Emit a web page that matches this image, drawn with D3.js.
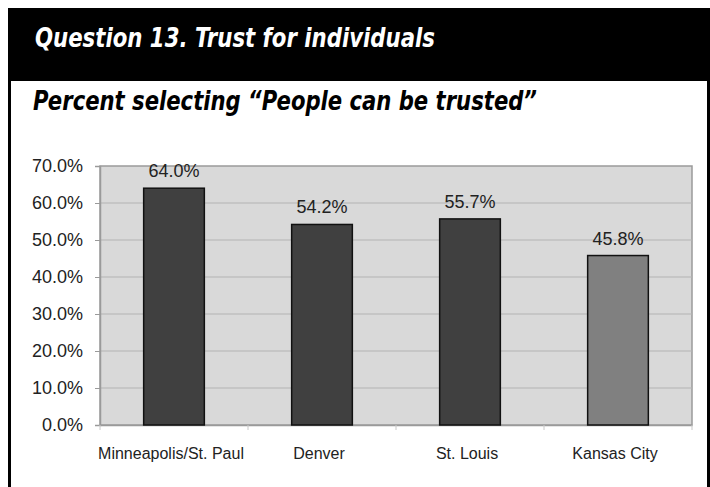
<!DOCTYPE html>
<html>
<head>
<meta charset="utf-8">
<script src="https://cdn.jsdelivr.net/npm/d3@7/dist/d3.min.js"></script>
<style>
  html, body { margin: 0; padding: 0; background: #fff; }
  svg { display: block; }
</style>
</head>
<body>
<script>
// Survey result: share of respondents who say "People can be trusted"
const cities = ["Minneapolis/St. Paul", "Denver", "St. Louis", "Kansas City"];
const percents = [64.0, 54.2, 55.7, 45.8];
const barFills = ["#404040", "#404040", "#404040", "#808080"];
const yTicks = [0, 10, 20, 30, 40, 50, 60, 70];

const W = 710, H = 487;
const svg = d3.select("body").append("svg").attr("width", W).attr("height", H);

// Frame: black header band plus side rules
svg.append("rect").attr("x", 8).attr("y", 8).attr("width", W - 8).attr("height", 73).attr("fill", "#000");
svg.append("rect").attr("x", 8).attr("y", 80).attr("width", 3).attr("height", H - 80).attr("fill", "#000");
svg.append("rect").attr("x", 707).attr("y", 80).attr("width", 3).attr("height", H - 80).attr("fill", "#000");

const headFont = "'DejaVu Sans Condensed', 'DejaVu Sans', sans-serif";
svg.append("text")
  .attr("x", 35).attr("y", 47)
  .attr("textLength", 400).attr("lengthAdjust", "spacingAndGlyphs")
  .style("font-family", headFont).style("font-weight", "bold").style("font-style", "italic")
  .style("font-size", "26px").attr("fill", "#fff")
  .text("Question 13. Trust for individuals");

svg.append("text")
  .attr("x", 33).attr("y", 110)
  .attr("textLength", 504).attr("lengthAdjust", "spacingAndGlyphs")
  .style("font-family", headFont).style("font-weight", "bold").style("font-style", "italic")
  .style("font-size", "26px").attr("fill", "#000")
  .text("Percent selecting \u201CPeople can be trusted\u201D");

// Plot area
const plot = { left: 100, right: 692, top: 166, bottom: 425 };
const x = d3.scaleBand().domain(cities).range([plot.left, plot.right]).paddingInner(0.59).paddingOuter(0.295);
const y = d3.scaleLinear().domain([0, 70]).range([plot.bottom, plot.top]);

const chartFont = "'Liberation Sans', Arial, sans-serif";

svg.append("rect")
  .attr("x", plot.left).attr("y", plot.top)
  .attr("width", plot.right - plot.left).attr("height", plot.bottom - plot.top)
  .attr("fill", "#d9d9d9").attr("stroke", "#9a9a9a").attr("stroke-width", 1.5);

// Horizontal gridlines
svg.append("g").selectAll("line")
  .data(yTicks.filter(t => t > 0 && t < 70))
  .join("line")
  .attr("x1", plot.left).attr("x2", plot.right)
  .attr("y1", d => y(d)).attr("y2", d => y(d))
  .attr("stroke", "#b4b4b4").attr("stroke-width", 1.2);

// Y axis
const yAxis = svg.append("g")
  .attr("transform", `translate(${plot.left},0)`)
  .call(d3.axisLeft(y).tickValues(yTicks).tickFormat(d => d.toFixed(1) + "%").tickSize(5).tickPadding(12));
yAxis.select(".domain").attr("stroke", "#9a9a9a").attr("stroke-width", 1.5);
yAxis.selectAll(".tick line").attr("stroke", "#9a9a9a");
yAxis.selectAll(".tick text")
  .style("font-family", chartFont).style("font-size", "18px").attr("fill", "#222");

// X axis with category boundary ticks
const xAxis = svg.append("g")
  .attr("transform", `translate(0,${plot.bottom})`)
  .call(d3.axisBottom(x).tickSize(0).tickPadding(23));
xAxis.select(".domain").attr("stroke", "#9a9a9a").attr("stroke-width", 1.5);
xAxis.selectAll(".tick text")
  .attr("dx", -3)
  .style("font-family", chartFont).style("font-size", "16px").attr("fill", "#222");

svg.append("g").selectAll("line")
  .data(d3.range(cities.length + 1))
  .join("line")
  .attr("x1", i => plot.left + i * (plot.right - plot.left) / cities.length)
  .attr("x2", i => plot.left + i * (plot.right - plot.left) / cities.length)
  .attr("y1", plot.bottom).attr("y2", plot.bottom + 5)
  .attr("stroke", "#c8c8c8");

// Bars
svg.append("g").selectAll("rect")
  .data(cities)
  .join("rect")
  .attr("x", d => x(d))
  .attr("y", (d, i) => y(percents[i]))
  .attr("width", x.bandwidth())
  .attr("height", (d, i) => y(0) - y(percents[i]))
  .attr("fill", (d, i) => barFills[i])
  .attr("stroke", "#111").attr("stroke-width", 1.5);

// Value labels
svg.append("g").selectAll("text")
  .data(cities)
  .join("text")
  .attr("x", d => x(d) + x.bandwidth() / 2)
  .attr("y", (d, i) => y(percents[i]) - 11)
  .attr("text-anchor", "middle")
  .style("font-family", chartFont).style("font-size", "18px").attr("fill", "#222")
  .text((d, i) => percents[i].toFixed(1) + "%");
</script>
</body>
</html>
